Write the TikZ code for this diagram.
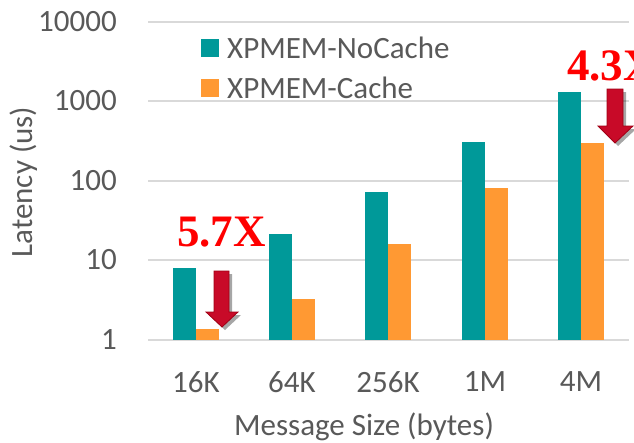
\documentclass[tikz,border=0pt]{standalone}
\usepackage{fontspec}
\setmainfont{Carlito}
\newfontfamily\redfont{Liberation Serif}
\usetikzlibrary{shadows}
\definecolor{tealbar}{RGB}{0,153,153}
\definecolor{orangebar}{RGB}{255,153,51}
\definecolor{txtgray}{RGB}{89,89,89}
\definecolor{gridgray}{RGB}{217,217,217}
\definecolor{arrowred}{RGB}{200,10,40}
\definecolor{arrowedge}{RGB}{160,0,20}
\tikzset{
  tick/.style={font=\fontsize{31}{31}\selectfont, text=txtgray, inner sep=0pt},
  gridline/.style={draw=gridgray, line width=1.5pt},
  nocache/.style={fill=tealbar, draw=none},
  cache/.style={fill=orangebar, draw=none},
  factor/.style={font=\redfont\bfseries\fontsize{45}{45}\selectfont, text=red, inner sep=0pt},
  downarrow/.style={fill=arrowred, draw=arrowedge, line width=0.8pt, line join=miter,
    drop shadow={shadow xshift=3pt, shadow yshift=-3pt, opacity=0.35, fill=black}}
}
\begin{document}
\begin{tikzpicture}[x=1pt,y=-1pt]
\useasboundingbox (0,0) rectangle (634,442);
\clip (0,0) rectangle (634,442);
% grid
\foreach \yy/\lab in {22/10000,101/1000,181/100,260/10,340/1}{
  \draw[gridline] (148,\yy) -- (629,\yy);
  \node[tick, anchor=east] (t\lab) at (117,\yy) {\lab};
}
% bars: baseline 340, 80 px per decade
\foreach \cx/\a/\b in {196/268/329, 292/234/299, 388/192/244, 485/142/188, 581/92/143}{
  \fill[nocache] (\cx-23,340) rectangle (\cx,\a);
  \fill[cache] (\cx,340) rectangle (\cx+23,\b);
}
% x labels
\foreach \cx/\lab in {196/16K, 292/64K, 388/256K, 485/1M, 581/4M}{
  \node[tick] (x\lab) at (\cx,382) {\lab};
}
% axis titles
\node[tick] (xtitle) at (364,427) {Message Size (bytes)};
\node[tick, rotate=90] (ytitle) at (24,182) {Latency (us)};
% legend
\fill[nocache] (201,39) rectangle (219,57);
\node[tick, anchor=west] (l1) at (227,48) {XPMEM-NoCache};
\fill[cache] (201,79) rectangle (219,97);
\node[tick, anchor=west] (l2) at (227,88) {XPMEM-Cache};
% factor labels
\node[factor, anchor=base west] (f1) at (177,246) {5.7X};
\node[factor, anchor=base west] (f2) at (567,80) {4.3X};
% arrows
\draw[downarrow] (214,271) -- (229,271) -- (229,312) -- (238,312) -- (222,327) -- (206,312) -- (214,312) -- cycle;
\draw[downarrow] (607,89) -- (623,89) -- (623,126) -- (633,126) -- (615,143) -- (598,126) -- (607,126) -- cycle;
\end{tikzpicture}
\end{document}
